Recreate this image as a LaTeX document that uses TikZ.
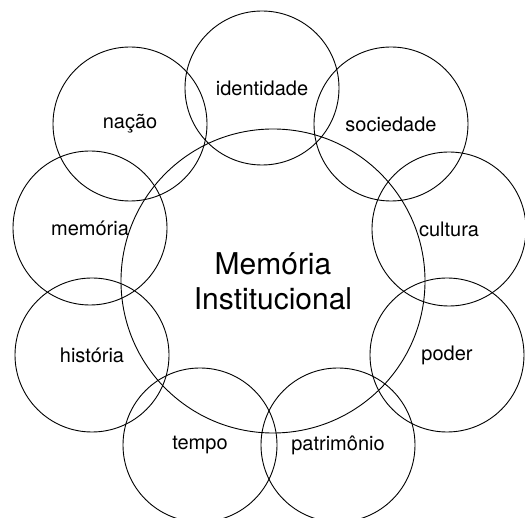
\documentclass[tikz,border=0pt]{standalone}
\usepackage{fontspec}
\setmainfont{TeX Gyre Heros}
\begin{document}
\begin{tikzpicture}[x=1pt,y=-1pt,
  small/.style={circle,draw,line width=0.9pt,minimum size=154pt,inner sep=0pt,font=\fontsize{20}{24}\selectfont},
  big/.style={circle,draw,line width=0.9pt,minimum size=304pt,inner sep=0pt,align=center,font=\fontsize{30}{35}\selectfont}]
\useasboundingbox (0,0) rectangle (525,518);
\node[big] (mi) at (273,281) {Memória\\Institucional};
\node[small] (id) at (262,88) {identidade};
\node[small] (na) at (130,124) {nação};
\node[small] (so) at (391,124) {sociedade};
\node[small] (me) at (90,228) {memória};
\node[small] (cu) at (449,229) {cultura};
\node[small] (hi) at (92,355) {história};
\node[small] (po) at (447,355) {poder};
\node[small] (te) at (200,445) {tempo};
\node[small] (pa) at (338,445) {patrimônio};
\end{tikzpicture}
\end{document}
